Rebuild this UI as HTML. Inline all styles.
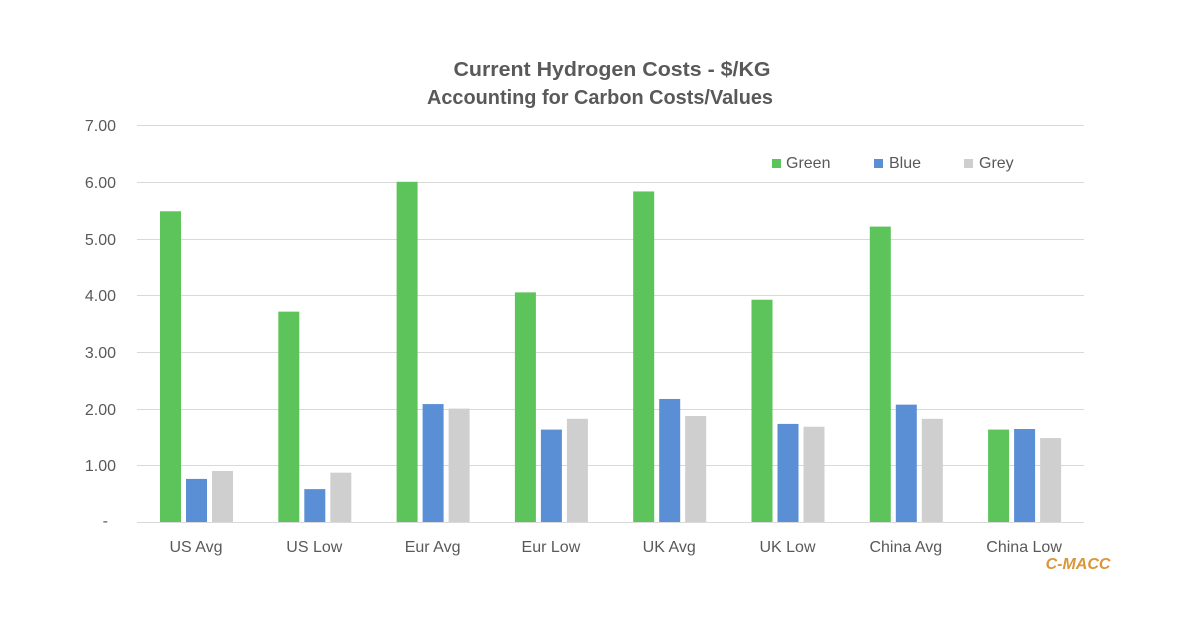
<!DOCTYPE html>
<html><head><meta charset="utf-8"><style>
html,body{margin:0;padding:0;background:#fff;}
svg{display:block;font-family:"Liberation Sans",sans-serif;}
</style></head><body>
<svg width="1200" height="627" viewBox="0 0 1200 627" xmlns="http://www.w3.org/2000/svg">
<rect width="1200" height="627" fill="#fff"/>
<text x="612" y="76" text-anchor="middle" font-size="20" font-weight="bold" fill="#595959" textLength="317" lengthAdjust="spacingAndGlyphs">Current Hydrogen Costs - $/KG</text>
<text x="600" y="104" text-anchor="middle" font-size="20" font-weight="bold" fill="#595959" textLength="346" lengthAdjust="spacingAndGlyphs">Accounting for Carbon Costs/Values</text>
<g stroke="#d9d9d9" stroke-width="1">
<line x1="137" x2="1084" y1="125.5" y2="125.5"/>
<line x1="137" x2="1084" y1="182.5" y2="182.5"/>
<line x1="137" x2="1084" y1="239.5" y2="239.5"/>
<line x1="137" x2="1084" y1="295.5" y2="295.5"/>
<line x1="137" x2="1084" y1="352.5" y2="352.5"/>
<line x1="137" x2="1084" y1="409.5" y2="409.5"/>
<line x1="137" x2="1084" y1="465.5" y2="465.5"/>
<line x1="137" x2="1084" y1="522.5" y2="522.5"/>
</g>
<g font-size="16" fill="#595959" text-anchor="end">
<text x="116" y="131">7.00</text>
<text x="116" y="188">6.00</text>
<text x="116" y="245">5.00</text>
<text x="116" y="301">4.00</text>
<text x="116" y="358">3.00</text>
<text x="116" y="415">2.00</text>
<text x="116" y="471">1.00</text>
<text x="108" y="526">-</text>
</g>
<g id="bars"></g>
<g font-size="16" fill="#595959" text-anchor="middle" id="xl"></g>
<rect x="772" y="159" width="9" height="9" fill="#5cc45a"/>
<text x="786" y="168" font-size="16" fill="#595959">Green</text>
<rect x="874" y="159" width="9" height="9" fill="#5a8fd6"/>
<text x="889" y="168" font-size="16" fill="#595959">Blue</text>
<rect x="964" y="159" width="9" height="9" fill="#cfcfcf"/>
<text x="979" y="168" font-size="16" fill="#595959">Grey</text>
<text x="1078" y="569" text-anchor="middle" font-size="16" font-weight="bold" font-style="italic" fill="#d9963a">C-MACC</text>
<script>
var d=[["US Avg",5.48,0.76,0.9],["US Low",3.71,0.58,0.87],["Eur Avg",6.0,2.08,2.0],["Eur Low",4.05,1.63,1.82],["UK Avg",5.83,2.17,1.87],["UK Low",3.92,1.73,1.68],["China Avg",5.21,2.07,1.82],["China Low",1.63,1.64,1.48]];
var c=["#5cc45a","#5a8fd6","#cfcfcf"],ns="http://www.w3.org/2000/svg";
var b=document.getElementById("bars"),xl=document.getElementById("xl");
d.forEach(function(r,i){var x0=160+i*118.3;
for(var k=0;k<3;k++){var h=56.7*r[k+1];var e=document.createElementNS(ns,"rect");
e.setAttribute("x",x0+k*26);e.setAttribute("y",522-h);e.setAttribute("width",21);e.setAttribute("height",h);e.setAttribute("fill",c[k]);b.appendChild(e);}
var t=document.createElementNS(ns,"text");t.setAttribute("x",x0+36);t.setAttribute("y",552);t.textContent=r[0];xl.appendChild(t);});
</script>
</svg>
</body></html>
